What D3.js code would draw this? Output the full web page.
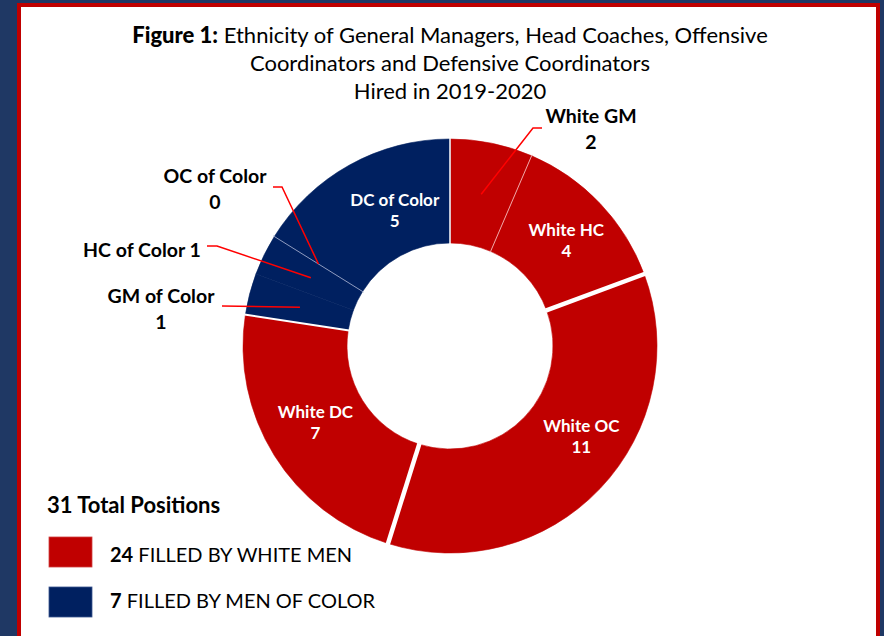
<!DOCTYPE html>
<html><head><meta charset="utf-8">
<script src="https://cdn.jsdelivr.net/npm/d3@7"></script>
<style>html,body{margin:0;padding:0;background:#1f3864;}svg{display:block;}</style>
</head><body>
<svg id="c" width="884" height="636"></svg>
<script>
// ---- data ----
const categories = ["White GM","White HC","White OC","White DC","GM of Color","HC of Color","OC of Color","DC of Color"];
const values     = [2, 4, 11, 7, 1, 1, 0, 5];
const groups     = ["white","white","white","white","color","color","color","color"];
const titleBold  = "Figure 1:";
const titleLines = [" Ethnicity of General Managers, Head Coaches, Offensive","Coordinators and Defensive Coordinators","Hired in 2019-2020"];
const totalLabel = "31 Total Positions";
const legendNums = ["24","7"];
const legendText = [" FILLED BY WHITE MEN"," FILLED BY MEN OF COLOR"];

// ---- style / layout ----
const FONT = "Lato, 'Open Sans', sans-serif";
const colors = {white:"#c00000", color:"#002060"};
const cx = 450, cy = 346, rOut = 207, rIn = 103;
// separator at start of each slice: [color, width]
const seps = [["#ffffff",1.5],["#f0a8a8",1],["#ffffff",4.5],["#ffffff",4.5],["#ffffff",2],null,["#8e9cc0",1],null];
// inside labels: offsets from centroid
const inside = {"White HC":[4,0],"White OC":[19,-18],"White DC":[-3,-7],"DC of Color":[20,-1]};
// outside labels: text anchor position, elbow points
const outside = {
  "White GM":   {tx:591, ty:123, lines:["White GM","2"], path:[[542,128],[533,128]]},
  "OC of Color":{tx:215, ty:183, lines:["OC of Color","0"], path:[[273,187],[282,187]]},
  "HC of Color":{tx:142, ty:257, lines:["HC of Color 1"], path:[[207,246],[217,246]]},
  "GM of Color":{tx:161, ty:303, lines:["GM of Color","1"], path:[[222,306]]}
};

const svg = d3.select("#c");
svg.append("rect").attr("width",884).attr("height",636).attr("fill","#1f3864");
svg.append("rect").attr("x",19).attr("y",5).attr("width",859).attr("height",700)
  .attr("fill","#ffffff").attr("stroke","#c00000").attr("stroke-width",4);

// title
const t = svg.append("text").attr("x",cx).attr("y",43).attr("text-anchor","middle")
  .attr("font-family",FONT).attr("font-size",22).attr("fill","#000");
t.append("tspan").attr("font-weight","900").text(titleBold);
t.append("tspan").text(titleLines[0]);
titleLines.slice(1).forEach((l,i)=>{
  svg.append("text").attr("x",cx).attr("y",71+i*28).attr("text-anchor","middle")
    .attr("font-family",FONT).attr("font-size",22).attr("fill","#000").text(l);
});

// donut
const data = categories.map((c,i)=>({name:c, value:values[i], group:groups[i], idx:i}));
const pie = d3.pie().value(d=>d.value).sort(null);
const arcs = pie(data);
const arc = d3.arc().innerRadius(rIn).outerRadius(rOut);
const g = svg.append("g").attr("transform",`translate(${cx},${cy})`);
g.selectAll("path.slice").data(arcs).join("path").attr("class","slice")
  .attr("d",arc).attr("fill",d=>colors[d.data.group])
  .attr("stroke",d=>colors[d.data.group]).attr("stroke-width",0.6);

// separators
arcs.forEach((a,i)=>{
  const s = seps[i]; if(!s) return;
  const ang = a.startAngle;
  g.append("line")
    .attr("x1",Math.sin(ang)*(rIn-1)).attr("y1",-Math.cos(ang)*(rIn-1))
    .attr("x2",Math.sin(ang)*(rOut+1)).attr("y2",-Math.cos(ang)*(rOut+1))
    .attr("stroke",s[0]).attr("stroke-width",s[1]);
});

// inside labels
arcs.forEach(a=>{
  const off = inside[a.data.name]; if(!off) return;
  const c = arc.centroid(a);
  const x = cx + c[0] + off[0], y = cy + c[1] + off[1];
  const tx = svg.append("text").attr("text-anchor","middle").attr("font-family",FONT)
    .attr("font-weight","bold").attr("font-size",17).attr("fill","#fff");
  tx.append("tspan").attr("x",x).attr("y",y-3).text(a.data.name);
  tx.append("tspan").attr("x",x).attr("y",y+18).text(a.data.value);
});

// outside labels with leader lines
arcs.forEach(a=>{
  const o = outside[a.data.name]; if(!o) return;
  const c = arc.centroid(a);
  const pts = o.path.concat([[cx+c[0], cy+c[1]]]);
  svg.append("path").attr("d",d3.line()(pts)).attr("fill","none")
    .attr("stroke","#ff0000").attr("stroke-width",1.5);
  const tx = svg.append("text").attr("text-anchor","middle").attr("font-family",FONT)
    .attr("font-weight","bold").attr("font-size",19.5).attr("fill","#000");
  o.lines.forEach((l,i)=>tx.append("tspan").attr("x",o.tx).attr("y",o.ty+i*26).text(l));
});

// legend
svg.append("text").attr("x",47).attr("y",513).attr("font-family",FONT).attr("font-weight","bold")
  .attr("font-size",22).attr("fill","#000").text(totalLabel);
["white","color"].forEach((k,i)=>{
  const y0 = [537,587][i];
  svg.append("rect").attr("x",49).attr("y",y0).attr("width",43).attr("height",30)
    .attr("fill",colors[k]).attr("stroke", k==="white"?"#d04040":"#3a5590").attr("stroke-width",0.8);
  const tx = svg.append("text").attr("x",110).attr("y",[562,608][i]).attr("font-family",FONT)
    .attr("font-size",20).attr("fill","#000");
  tx.append("tspan").attr("font-weight","bold").text(legendNums[i]);
  tx.append("tspan").text(legendText[i]);
});
</script>
</body></html>
